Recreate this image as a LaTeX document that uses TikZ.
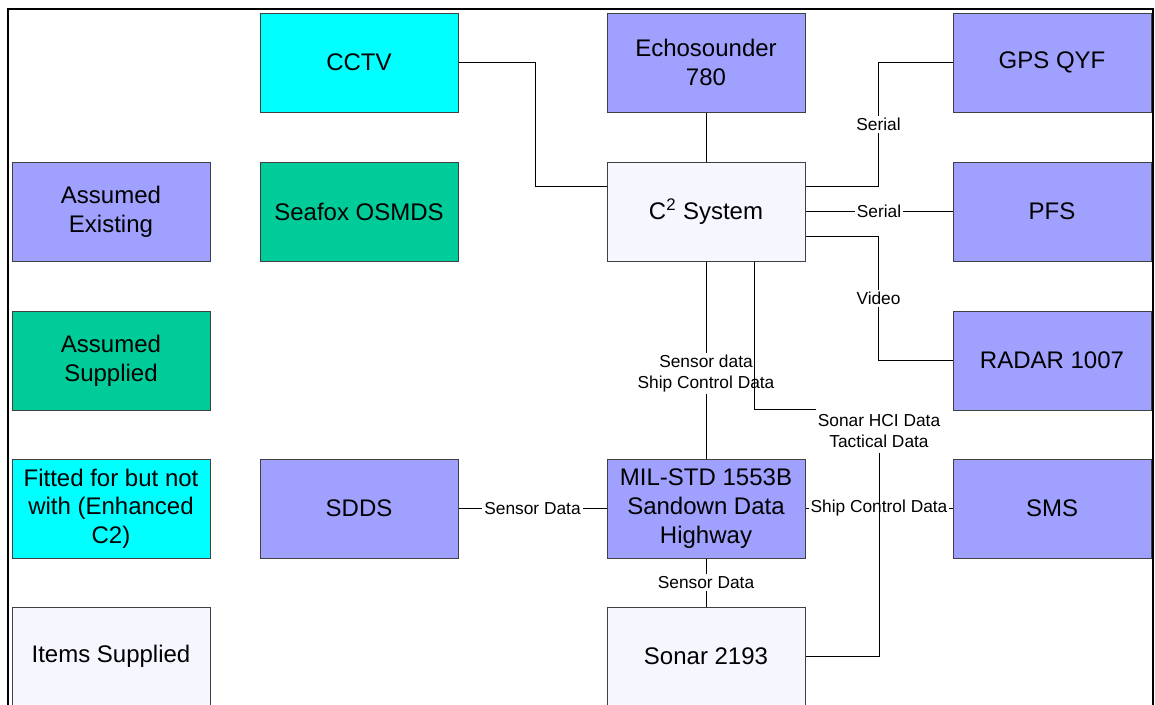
\documentclass[tikz,border=0pt]{standalone}
\usepackage{fontspec}
\setmainfont{Liberation Sans}
\usetikzlibrary{positioning, calc}
\definecolor{sysexisting}{RGB}{160,160,255}
\definecolor{syssupplied}{RGB}{0,204,153}
\definecolor{sysfitted}{RGB}{0,255,255}
\definecolor{sysitems}{RGB}{246,246,255}

\begin{document}
\begin{tikzpicture}[x=0.75pt,y=-0.75pt,
	unit/.style={draw=black!75,line width=0.75pt,minimum width=148.5pt,minimum height=74.25pt,
		align=center,inner sep=2pt,font=\fontsize{18}{21.5}\selectfont},
	existing/.style={unit,fill=sysexisting},
	supplied/.style={unit,fill=syssupplied},
	fitted/.style={unit,fill=sysfitted},
	items/.style={unit,fill=sysitems},
	link/.style={line width=0.75pt},
	lab/.style={fill=white,inner sep=1.5pt,align=center,font=\fontsize{13}{15.75}\selectfont}]
	\clip (0,0) rectangle (1155,704);
	\draw[line width=1.5pt] (8,740) -- (8,9) -- (1153,9) -- (1153,740);
	% key
	\node[existing] (keyexist) at (111,211.5) {Assumed\\Existing};
	\node[supplied] (keysupp) at (111,360.5) {Assumed\\Supplied};
	\node[fitted] (keyfit) at (111,508.5) {Fitted for but not\\with (Enhanced\\C2)};
	\node[items] (keyitems) at (111,656.5) {Items Supplied};
	% units
	\node[fitted] (cctv) at (359,62.5) {CCTV};
	\node[supplied] (seafox) at (359,211.5) {Seafox OSMDS};
	\node[existing] (sdds) at (359,508.5) {SDDS};
	\node[existing] (echo) at (706,62.5) {Echosounder\\780};
	\node[items] (c2) at (706,211.5) {C\textsuperscript{2} System};
	\node[existing] (mil) at (706,508.5) {MIL-STD 1553B\\Sandown Data\\Highway};
	\node[items] (sonar) at (706,656.5) {Sonar 2193};
	\node[existing] (gps) at (1052,62.5) {GPS QYF};
	\node[existing] (pfs) at (1052,211.5) {PFS};
	\node[existing] (radar) at (1052,360.5) {RADAR 1007};
	\node[existing] (sms) at (1052,508.5) {SMS};
	% links
	\draw[link] (cctv.east) -- ++(77,0) |- ($(c2.west)+(0,-25)$);
	\draw[link] (echo) -- (c2);
	\draw[link] (gps.west) -- ++(-74,0) |- node[lab,pos=0.25]{Serial} ($(c2.east)+(0,-25)$);
	\draw[link] (c2.east) -- node[lab]{Serial} (pfs.west);
	\draw[link] (radar.west) -- ++(-74,0) |- node[lab,pos=0.25]{Video} ($(c2.east)+(0,25)$);
	\draw[link] (c2) -- node[lab,pos=0.57]{Sensor data\\Ship Control Data} (mil);
	\draw[link] (sdds) -- node[lab]{Sensor Data} (mil);
	\draw[link] (mil) -- node[lab]{Ship Control Data} (sms);
	\draw[link] (mil) -- node[lab]{Sensor Data} (sonar);
	\draw[link] ($(c2.south)+(48,0)$) -- ++(0,148) -- ++(125,0)
		node[lab,anchor=north,inner ysep=4pt,yshift=0.5pt]{Sonar HCI Data\\Tactical Data} |- (sonar.east);
\end{tikzpicture}
\end{document}
